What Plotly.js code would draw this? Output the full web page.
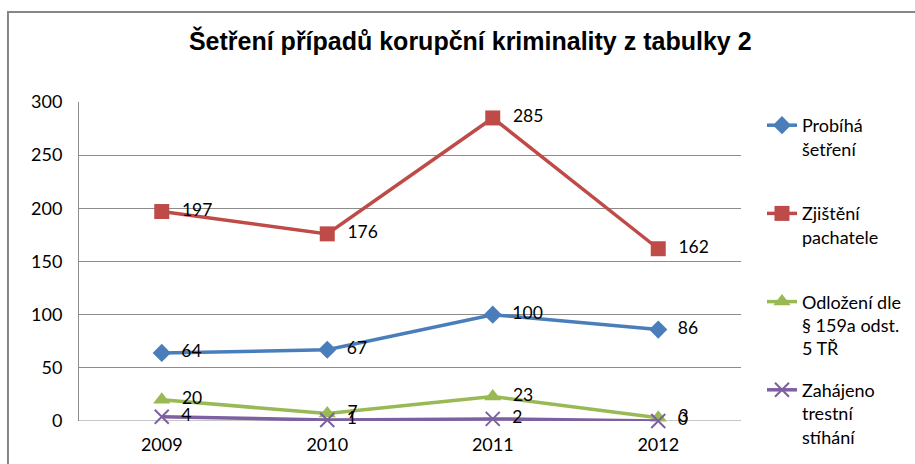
<!DOCTYPE html>
<html>
<head>
<meta charset="utf-8">
<script src="https://cdn.plot.ly/plotly-3.0.1.min.js"></script>
<style>html,body{margin:0;padding:0;background:#fff;}#chart{width:915px;height:464px;}</style>
</head>
<body>
<div id="chart"></div>
<script>
const years = ["2009", "2010", "2011", "2012"];
const seriesNames = ["Probíhá<br>šetření<br>\u00a0", "Zjištění<br>pachatele<br>\u00a0", "Odložení dle<br>§ 159a odst.<br>5 TŘ", "Zahájeno<br>trestní<br>stíhání"];
const probihaSetreni = [64, 67, 100, 86];
const zjisteniPachatele = [197, 176, 285, 162];
const odlozeni = [20, 7, 23, 3];
const zahajenoStihani = [4, 1, 2, 0];
const yTicks = [0, 50, 100, 150, 200, 250, 300];

const FONT = "Lato, 'Open Sans', sans-serif";
const colors = ["#4A7EBB", "#BE4B48", "#98B954", "#7D60A0"];
const symbols = ["diamond", "square", "triangle-up", "x-thin"];
const msize = [14, 15, 15, 14];
const allValues = [probihaSetreni, zjisteniPachatele, odlozeni, zahajenoStihani];

const traces = allValues.map((vals, i) => ({
  type: "scatter",
  mode: "lines+markers+text",
  x: years,
  y: vals,
  name: seriesNames[i],
  legendgroup: "g" + i,
  text: vals.map(v => "\u2002\u200a" + v),
  textposition: "middle right",
  textfont: {family: FONT, size: 17.5, color: "#000"},
  line: {color: colors[i], width: 3.5},
  marker: {symbol: symbols[i], size: msize[i], color: colors[i],
           line: {color: colors[i], width: i === 3 ? 2 : 0}},
  cliponaxis: false
}));

// paper area: x 79..741, y 102..459 ; plot bottom at 421
const layout = {
  width: 915, height: 464,
  margin: {l: 79, r: 174, t: 102, b: 5},
  paper_bgcolor: "#fff", plot_bgcolor: "#fff",
  font: {family: FONT, size: 18, color: "#000"},
  title: {text: "Šetření případů korupční kriminality z tabulky 2",
          font: {family: "'Liberation Sans', Arial, sans-serif", size: 25, color: "#000", weight: "bold"},
          xref: "paper", x: 0.591, xanchor: "center",
          yref: "container", y: 0.912, yanchor: "middle"},
  xaxis: {type: "category", range: [-0.5, 3.5], showgrid: false, zeroline: false,
          showline: false, ticks: "", ticklabelstandoff: 11, automargin: false,
          tickfont: {family: FONT, size: 18, color: "#000"}},
  yaxis: {domain: [0.1064, 1], range: [0, 300], tickvals: yTicks, showgrid: true,
          gridcolor: "#8C8C8C", gridwidth: 1, automargin: false,
          zeroline: false, showline: true, linecolor: "#8C8C8C", linewidth: 1, ticks: "",
          ticklabelstandoff: 12, tickfont: {family: FONT, size: 18, color: "#000"}},
  showlegend: true,
  legend: {x: 1.0317, xanchor: "left", y: 0.986, yanchor: "top", valign: "top",
           tracegroupgap: 15, maxheight: 420, font: {family: FONT, size: 18, color: "#000"},
           bgcolor: "rgba(0,0,0,0)"},
  shapes: [
    {type: "rect", xref: "paper", yref: "paper", x0: -0.1073, x1: 2, y0: -1, y1: 1.252,
     line: {color: "#868686", width: 2}, fillcolor: "rgba(0,0,0,0)", layer: "below"},
    {type: "line", xref: "paper", yref: "y", x0: 0, x1: 1, y0: 0, y1: 0,
     line: {color: "#8C8C8C", width: 1}, layer: "below"}
  ]
};

Plotly.newPlot("chart", traces, layout, {displayModeBar: false, staticPlot: true});
</script>
</body>
</html>
